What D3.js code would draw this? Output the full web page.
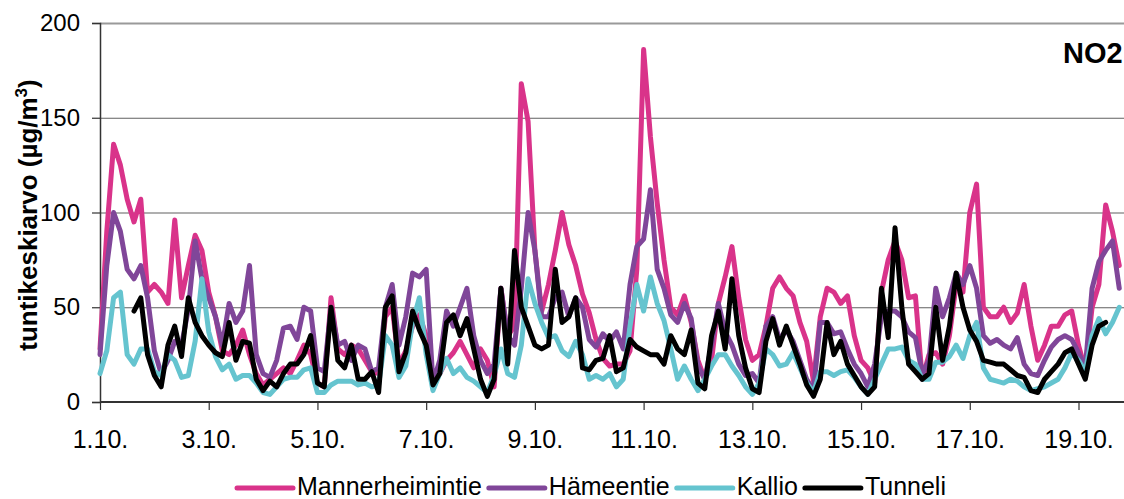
<!DOCTYPE html>
<html>
<head>
<meta charset="utf-8">
<script src="https://cdn.jsdelivr.net/npm/d3@7"></script>
<style>
  body { margin: 0; background: #fff; }
  svg { display: block; font-family: "Liberation Sans", Arial, sans-serif; }
</style>
</head>
<body>
<div id="chart"></div>
<script>
// hourly NO2 means, read every 3 hours starting 1.10. 00:00
var stepHours = 3;

var mannerheimintie = [28,90,136,125,107,95,107,58,62,58,
  52,96,55,72,88,80,58,45,27,25,
  30,38,25,15,9,12,15,18,15,22,
  30,25,10,8,55,28,25,30,28,22,
  16,15,45,50,20,27,40,46,35,12,
  15,22,26,32,25,18,28,22,8,60,
  35,40,168,148,80,48,62,80,100,83,
  72,57,47,33,23,19,20,20,27,70,
  186,140,105,75,50,46,56,42,22,12,
  22,52,66,82,55,33,22,25,40,60,
  66,60,56,42,32,11,45,60,58,52,
  56,35,22,18,10,58,75,85,75,55,
  56,12,25,26,20,35,62,58,100,115,
  50,45,45,50,42,47,62,40,22,30,
  40,40,46,48,30,17,50,62,104,90,
  72];

var hameentie = [25,72,100,90,70,65,72,55,27,15,
  22,32,30,49,85,65,55,45,30,52,
  42,48,72,25,15,13,22,39,40,33,
  50,48,18,16,50,30,32,22,30,28,
  16,18,50,62,30,45,68,66,70,10,
  22,48,40,50,60,35,22,15,20,60,
  35,30,60,100,80,45,45,55,58,45,
  55,50,33,29,36,32,37,28,62,82,
  86,112,70,60,46,42,52,44,19,12,
  30,52,37,30,20,14,15,10,40,45,
  33,38,32,22,12,6,42,42,36,37,
  28,20,15,8,20,45,48,48,45,37,
  34,15,22,60,45,55,68,62,72,60,
  35,31,33,30,28,34,20,15,14,22,
  29,33,35,33,26,18,60,74,80,85,
  60];

var kallio = [15,27,55,58,25,20,28,28,16,14,
  25,22,13,14,32,65,37,24,17,20,
  12,14,14,10,5,4,8,12,13,13,
  17,18,5,5,9,11,11,11,9,10,
  8,9,35,30,13,19,42,55,25,6,
  15,23,15,18,13,11,8,5,14,28,
  15,13,30,65,52,42,34,35,27,24,
  32,25,12,14,12,15,8,12,40,62,
  48,66,52,43,28,12,19,12,6,12,
  19,25,25,19,14,8,4,10,28,25,
  19,20,26,18,10,5,16,16,14,16,
  17,13,8,4,12,20,28,28,29,22,
  20,12,12,21,21,24,30,23,35,42,
  18,12,11,10,12,11,8,6,7,8,
  10,12,18,26,22,16,35,44,36,42,
  50];

var tunneli = [null,null,null,null,null,48,55,25,14,8,
  30,40,24,55,42,35,30,26,24,42,
  22,32,31,12,6,11,8,15,20,20,
  25,35,10,8,50,22,18,30,12,12,
  16,5,50,56,16,26,48,38,30,9,
  15,42,46,35,44,28,12,3,12,60,
  20,80,50,40,30,28,30,70,42,45,
  55,18,17,22,23,35,16,18,33,29,
  27,25,25,20,35,28,25,38,10,7,
  35,48,28,65,35,18,7,5,32,44,
  30,40,30,20,9,3,12,42,25,32,
  20,14,8,4,8,60,34,92,50,20,
  16,12,15,50,22,40,68,50,38,32,
  22,21,20,20,17,14,13,6,5,12,
  16,20,26,28,20,12,30,40,42,null,
  null];

var seriesNames = ["Mannerheimintie", "Hämeentie", "Kallio", "Tunneli"];
var seriesColors = ["#d9338a", "#804699", "#65c4cf", "#000000"];
var seriesValues = [mannerheimintie, hameentie, kallio, tunneli];

var dayTicks = [0, 2, 4, 6, 8, 10, 12, 14, 16, 18];
var dayLabels = ["1.10.", "3.10.", "5.10.", "7.10.", "9.10.", "11.10.", "13.10.", "15.10.", "17.10.", "19.10."];
var yTicks = [0, 50, 100, 150, 200];

var width = 1124, height = 499;
var plotLeft = 100, plotTop = 23, plotBottom = 402;

var svg = d3.select("#chart").append("svg")
    .attr("width", width)
    .attr("height", height);

var x = d3.scaleLinear().domain([0, 18 * 24]).range([plotLeft, 1078.5]);
var y = d3.scaleLinear().domain([0, 200]).range([plotBottom, plotTop]);

// grid
svg.append("g").selectAll("line")
    .data(yTicks.filter(function (d) { return d > 0; }))
    .enter().append("line")
    .attr("x1", plotLeft).attr("x2", width)
    .attr("y1", function (d) { return y(d) + 0.5; })
    .attr("y2", function (d) { return y(d) + 0.5; })
    .attr("stroke", function (d) { return d == 200 ? "#9a9a9a" : "#606060"; })
    .attr("stroke-width", function (d) { return d == 200 ? 2 : 1.2; });

// y axis
var yAxis = d3.axisLeft(y).tickValues(yTicks).tickSize(8).tickPadding(12);
var gy = svg.append("g").attr("transform", "translate(" + plotLeft + ",0)").call(yAxis);
gy.select(".domain").attr("stroke", "#333").attr("stroke-width", 1.5);
gy.selectAll(".tick line").attr("stroke", "#333").attr("stroke-width", 1.2);
gy.selectAll("text").attr("font-size", 24).attr("fill", "#000")
    .attr("font-family", "Liberation Sans, Arial, sans-serif");

// x axis
var xAxis = d3.axisBottom(x)
    .tickValues(dayTicks.map(function (d) { return d * 24; }))
    .tickFormat(function (d, i) { return dayLabels[i]; })
    .tickSize(8).tickPadding(20);
var gx = svg.append("g").attr("transform", "translate(0," + plotBottom + ")").call(xAxis);
gx.select(".domain").attr("d", "M" + plotLeft + ",0H" + width).attr("stroke", "#333").attr("stroke-width", 2);
gx.selectAll(".tick line").attr("stroke", "#333").attr("stroke-width", 1.2);
gx.selectAll("text").attr("font-size", 25).attr("fill", "#000")
    .attr("font-family", "Liberation Sans, Arial, sans-serif");

// series
var line = d3.line()
    .defined(function (d) { return d != null; })
    .x(function (d, i) { return x(i * stepHours); })
    .y(function (d) { return y(d); })
    .curve(d3.curveLinear);

svg.append("g").selectAll("path")
    .data(seriesValues)
    .enter().append("path")
    .attr("d", line)
    .attr("fill", "none")
    .attr("stroke", function (d, i) { return seriesColors[i]; })
    .attr("stroke-width", 5)
    .attr("stroke-linejoin", "round")
    .attr("stroke-linecap", "round");

// y title
var yt = svg.append("text")
    .attr("transform", "translate(37,215) rotate(-90)")
    .attr("text-anchor", "middle")
    .attr("font-size", 26)
    .attr("font-weight", "bold");
yt.append("tspan").text("tuntikeskiarvo (µg/m");
yt.append("tspan").attr("font-size", 17).attr("dy", -10).text("3");
yt.append("tspan").attr("dy", 10).text(")");

// NO2 label
svg.append("text")
    .attr("x", 1063).attr("y", 63)
    .attr("font-size", 29)
    .attr("font-weight", "bold")
    .text("NO2");

// legend
var lx = 237;
seriesNames.forEach(function (name, i) {
    svg.append("line")
        .attr("x1", lx).attr("x2", lx + 56)
        .attr("y1", 488).attr("y2", 488)
        .attr("stroke", seriesColors[i])
        .attr("stroke-width", 5)
        .attr("stroke-linecap", "round");
    var t = svg.append("text")
        .attr("x", lx + 60).attr("y", 495)
        .attr("font-size", 25)
        .text(name);
    lx = lx + 60 + t.node().getComputedTextLength() + 7;
});
</script>
</body>
</html>
